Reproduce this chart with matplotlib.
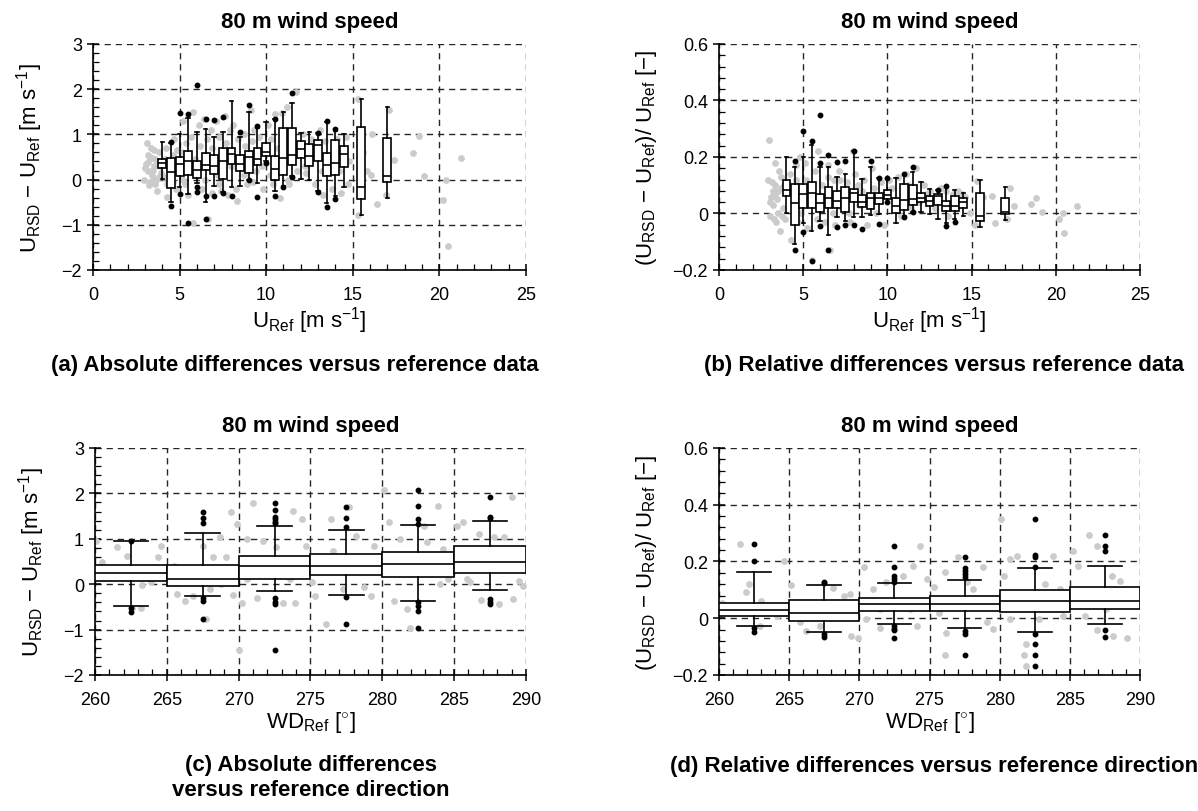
import matplotlib
matplotlib.use('Agg')
import matplotlib.pyplot as plt
from matplotlib.ticker import MultipleLocator, FuncFormatter

plt.rcParams['font.family'] = ['Liberation Sans', 'DejaVu Sans']
plt.rcParams['mathtext.fontset'] = 'custom'
plt.rcParams['mathtext.rm'] = 'Liberation Sans'
plt.rcParams['mathtext.it'] = 'Liberation Sans:italic'
plt.rcParams['mathtext.bf'] = 'Liberation Sans:bold'

# ---------------- (a) absolute difference vs U_ref ----------------
a_pos = [4.0, 4.5, 5.0, 5.5, 6.0, 6.5, 7.0, 7.5, 8.0, 8.5, 9.0, 9.5, 10.0, 10.5,
         11.0, 11.5, 12.0, 12.5, 13.0, 13.5, 14.0, 14.5, 15.5, 17.0]
a_whishi = [0.84, 0.80, 1.01, 1.37, 1.05, 1.11, 0.94, 1.05, 1.74, 0.95, 1.50, 1.15,
            1.27, 1.35, 1.50, 1.69, 1.02, 1.05, 1.04, 1.27, 1.07, 1.01, 1.78, 1.61]
a_q3 = [0.46, 0.48, 0.50, 0.63, 0.41, 0.59, 0.54, 0.70, 0.70, 0.55, 0.64, 0.70,
        0.81, 0.52, 1.15, 1.15, 0.85, 0.78, 0.87, 0.59, 0.87, 0.74, 1.17, 0.93]
a_med = [0.36, 0.16, 0.35, 0.41, 0.22, 0.33, 0.31, 0.41, 0.56, 0.35, 0.50, 0.46,
         0.61, 0.24, 0.48, 0.55, 0.67, 0.53, 0.77, 0.33, 0.37, 0.56, -0.16, 0.07]
a_q1 = [0.26, -0.19, 0.09, 0.11, 0.03, 0.22, 0.13, 0.02, 0.34, 0.20, 0.15, 0.33,
        0.52, 0.00, 0.10, 0.33, 0.47, 0.31, 0.41, 0.07, 0.10, 0.27, -0.42, -0.06]
a_whislo = [0.01, -0.49, -0.16, -0.33, -0.07, -0.50, -0.15, -0.28, -0.16, -0.15, 0.00, -0.07,
            0.40, -0.26, -0.15, 0.07, 0.01, -0.02, -0.26, -0.52, -0.37, -0.16, -0.79, -0.41]
a_fliers = [[], [0.83, -0.58], [1.47, -0.33], [1.44, -0.96], [2.09, -0.16, -0.27],
            [1.33, -0.37, -0.87], [1.31, -0.36], [1.39, -0.30], [-0.36], [1.05],
            [1.64, -0.02], [1.19, -0.39], [0.36], [1.35, -0.37], [-0.17], [1.91, 0.05],
            [], [], [1.04, -0.27], [1.30, -0.61], [1.13, -0.42], [], [], []]
a_grey_u = [3.1, 3.05, 2.95, 3.2, 3.3, 3.4, 3.5, 3.6, 3.7, 3.3, 3.8, 3.9, 3.5, 3.2, 3.6, 3.8,
            3.0, 3.15, 3.25, 3.45, 3.55, 3.75, 3.35, 3.65, 3.85, 3.4,
            4.3, 4.2, 4.4, 4.6, 4.8, 4.1, 4.7, 4.9, 4.5, 4.3, 4.15, 4.65, 4.85,
            5.2, 5.1, 5.3, 5.4, 5.6, 5.75, 5.8, 5.9, 5.5, 5.2, 5.65, 5.35,
            6.1, 6.2, 6.3, 6.4, 6.6, 6.65, 6.8, 6.9, 6.7, 6.2, 6.45, 6.85,
            7.1, 7.3, 7.4, 7.6, 7.7, 7.8, 7.9, 7.2, 7.5, 7.25, 7.95,
            8.1, 8.3, 8.4, 8.6, 8.7, 8.9, 8.2, 8.8, 8.25, 8.75,
            9.1, 9.2, 9.4, 9.6, 9.8, 9.7, 9.3, 9.25, 9.75,
            10.1, 10.3, 10.5, 10.6, 10.8, 10.9, 10.4, 10.7, 10.25,
            11.2, 11.4, 11.7, 11.8, 11.3, 11.6, 11.25,
            12.1, 12.3, 12.6, 12.8, 12.4, 12.25,
            13.1, 13.3, 13.6, 13.8, 13.4, 13.25,
            14.1, 14.3, 14.6, 14.8, 14.2, 14.75,
            15.3, 15.3, 15.6, 16.1, 16.05, 16.4, 15.8, 17.4, 17.1, 16.9, 18.5, 18.85,
            19.1, 20.2, 20.4, 20.5, 21.25]
a_grey_d = [0.81, 0.35, 0.0, 0.2, 0.5, 0.1, 0.3, 0.45, -0.26, -0.05, 0.6, 0.15, 0.65, 0.38, -0.1, 0.05,
            0.25, 0.55, -0.12, 0.22, 0.02, 0.4, 0.7, -0.02, 0.3, 0.48,
            -0.39, 0.7, 0.25, 0.55, -0.2, 0.05, 0.9, 0.35, 0.4, -0.1, 0.45, -0.05, 0.65,
            1.3, 0.6, -0.1, 0.8, 0.25, -0.96, 1.5, 0.45, -0.35, 0.0, 0.95, 0.5,
            1.2, 0.75, -0.2, 1.35, 0.9, -0.87, 1.1, -0.3, 0.4, 0.3, 0.0, 0.7,
            1.3, 0.95, -0.25, 1.4, 0.8, -0.35, 1.1, 0.1, 0.6, -0.1, 0.3,
            1.2, -0.48, 0.9, 0.5, 1.0, -0.1, 0.3, 0.75, -0.2, 0.1,
            1.55, 0.85, 0.2, 0.95, -0.2, 0.6, 1.1, -0.05, 0.3,
            1.2, 0.9, 1.45, 0.3, -0.4, 1.48, -0.1, 0.7, 0.1,
            1.6, 0.95, 1.93, 0.2, -0.1, 0.6, 0.0,
            1.0, 0.15, 0.9, -0.1, 0.55, 0.3,
            1.1, -0.35, 0.5, -0.2, 0.85, 0.2,
            0.9, -0.3, 0.95, 0.4, 0.2, -0.1,
            1.78, -0.78, 0.6, 1.0, 0.1, -0.53, 0.2, 0.43, 1.55, -0.35, 0.58, 0.96,
            0.07, -0.46, -0.02, -1.46, 0.48]

# ---------------- (b) relative difference vs U_ref ----------------
b_pos = a_pos
b_whishi = [0.200, 0.166, 0.200, 0.244, 0.166, 0.166, 0.130, 0.141, 0.221, 0.121, 0.166, 0.125,
            0.125, 0.127, 0.139, 0.147, 0.112, 0.086, 0.082, 0.098, 0.082, 0.071, 0.118, 0.094]
b_q3 = [0.119, 0.104, 0.104, 0.113, 0.068, 0.092, 0.078, 0.092, 0.088, 0.065, 0.074, 0.074,
        0.082, 0.054, 0.106, 0.101, 0.072, 0.062, 0.068, 0.045, 0.062, 0.053, 0.074, 0.056]
b_med = [0.082, 0.038, 0.068, 0.073, 0.036, 0.054, 0.044, 0.054, 0.071, 0.042, 0.054, 0.054,
         0.065, 0.025, 0.046, 0.051, 0.056, 0.044, 0.062, 0.027, 0.027, 0.039, -0.008, 0.006]
b_q1 = [0.062, -0.041, 0.018, 0.021, 0.004, 0.021, 0.021, 0.004, 0.042, 0.024, 0.015, 0.035,
        0.051, 0.002, 0.012, 0.029, 0.039, 0.027, 0.031, 0.008, 0.009, 0.021, -0.026, -0.002]
b_whislo = [0.000, -0.108, -0.032, -0.061, -0.026, -0.075, -0.014, -0.026, -0.014, -0.012, -0.005, -0.002,
            0.039, -0.032, -0.008, 0.006, 0.006, -0.002, -0.020, -0.032, -0.018, -0.008, -0.047, -0.022]
b_fliers = [[], [0.185, -0.129], [0.292, -0.067], [0.256, -0.167], [0.350, 0.178, -0.044],
            [0.208, -0.129], [0.182, -0.049], [0.186, -0.040], [0.221, -0.040], [-0.055],
            [0.185], [0.125, -0.038], [0.125, 0.039], [], [0.139, -0.012], [0.166, 0.004],
            [], [], [0.082], [0.098, -0.044], [-0.030], [], [], []]
b_grey_u = [2.97, 2.9, 3.0, 3.1, 3.2, 3.3, 3.4, 3.5, 3.6, 3.7, 3.8, 3.3, 3.5, 3.9, 3.2,
            3.05, 3.15, 3.25, 3.45, 3.55, 3.65, 3.75, 3.85, 3.35,
            4.3, 4.2, 4.6, 4.8, 4.4, 4.7, 4.9, 4.15, 4.55, 4.85,
            5.1, 5.2, 5.5, 5.3, 5.7, 5.8, 5.9, 5.15, 5.65,
            6.1, 6.3, 6.6, 6.5, 6.8, 6.9, 6.2, 6.45, 6.75,
            7.1, 7.3, 7.6, 7.96, 7.8, 7.4, 7.2, 7.7,
            8.1, 8.3, 8.6, 8.8, 8.5, 8.25,
            9.1, 9.3, 9.6, 9.8, 9.2,
            10.1, 10.4, 10.6, 10.8, 10.25,
            11.1, 11.4, 11.7, 11.9, 11.25,
            12.2, 12.5, 12.8, 12.35,
            13.2, 13.6, 13.9, 13.45,
            14.2, 14.6, 14.9, 14.4,
            15.3, 15.2, 15.7, 16.2, 16.4, 17.5, 17.3, 17.1, 18.5, 18.8, 19.15, 20.2, 20.4,
            20.5, 21.25]
b_grey_d = [0.26, 0.12, -0.01, 0.06, 0.03, 0.10, -0.03, 0.08, -0.062, 0.13, 0.02, 0.18, 0.0, -0.02, 0.08,
            0.04, 0.11, -0.02, 0.05, 0.15, 0.09, -0.01, 0.1, 0.07,
            -0.094, 0.14, 0.12, 0.20, 0.03, -0.03, 0.06, 0.1, 0.17, 0.0,
            0.18, -0.05, -0.165, 0.10, 0.15, -0.02, 0.22, 0.12, 0.06,
            0.10, -0.03, -0.13, 0.17, 0.12, -0.04, 0.05, 0.13, 0.0,
            0.15, 0.02, 0.11, 0.22, -0.03, 0.08, 0.12, 0.0,
            0.14, 0.03, 0.12, -0.04, 0.08, 0.1,
            0.16, 0.0, 0.11, -0.04, 0.09,
            0.12, 0.03, 0.13, -0.01, 0.09,
            0.14, 0.02, 0.16, 0.04, 0.1,
            0.10, 0.08, 0.02, 0.07,
            0.09, -0.01, 0.07, 0.08,
            0.08, 0.06, 0.0, 0.07,
            0.115, -0.04, 0.06, 0.062, -0.032, 0.027, 0.09, -0.02, 0.033, 0.053, 0.006, -0.02, 0.0,
            -0.07, 0.025]

# ---------------- (c) absolute difference vs WD_ref ----------------
c_pos = [262.5, 267.5, 272.5, 277.5, 282.5, 287.5]
c_whishi = [0.94, 1.12, 1.29, 1.20, 1.31, 1.39]
c_q3 = [0.43, 0.43, 0.63, 0.67, 0.71, 0.84]
c_med = [0.24, 0.125, 0.40, 0.41, 0.45, 0.49]
c_q1 = [0.06, -0.05, 0.11, 0.20, 0.15, 0.24]
c_whislo = [-0.48, -0.27, -0.155, -0.24, -0.37, -0.12]
c_fliers = [[0.96, -0.52, -0.61],
            [1.60, 1.45, 1.34, -0.30, -0.38, -0.77],
            [1.79, 1.64, 1.49, 1.44, 1.38, 1.34, -0.30, -0.39, -0.44, -1.45],
            [1.71, 1.46, 1.27, -0.28, -0.87],
            [2.08, 1.73, 1.43, 1.33, -0.39, -0.48, -0.58, -0.97],
            [1.91, 1.49, 1.45, -0.33, -0.39, -0.44]]
c_grey_wd = [260.1, 260.5, 261.5, 262.2, 263.1, 263.9, 263.3, 264.4, 264.6, 262.6, 263.2, 260.6,
             265.7, 266.3, 266.8, 267.7, 267.5, 268.2, 268.7, 269.1, 269.5, 269.6, 265.5, 268.8, 268.0,
             269.9, 270.2, 270.0, 270.6, 271.0, 271.3, 271.7, 272.6, 273.1, 273.8, 273.9, 274.4, 274.7,
             270.6, 273.6,
             275.1, 275.3, 276.1, 276.4, 276.6, 277.3, 277.7, 278.2, 278.7, 279.2, 279.4, 275.9, 278.9,
             280.1, 280.5, 280.8, 281.2, 281.9, 281.7, 282.9, 283.1, 283.9, 284.0, 284.2, 284.6, 280.5,
             285.2, 285.6, 285.9, 286.7, 286.9, 288.1, 287.8, 288.5, 289.0, 289.1, 289.5, 289.8, 286.1]
c_grey_d = [0.94, 0.48, 0.81, 0.63, 0.30, 0.04, -0.02, 0.60, 0.83, -0.52, -0.52, 0.20,
            -0.22, -0.37, -0.26, -0.77, 0.85, 0.59, 1.03, 0.59, 1.59, -0.24, 0.41, 0.0, -0.11,
            1.33, -0.41, -1.44, 1.00, 1.79, -0.30, 0.96, 0.81, -0.41, 1.62, -0.41, 1.44, 0.85,
            0.11, 0.11,
            0.04, -0.26, -0.87, 1.44, 0.74, -0.11, 1.71, 1.07, -0.07, -0.26, 0.85, 0.33, 0.48,
            2.08, 1.37, -0.37, 1.00, -0.97, -0.55, 1.29, 0.92, 1.73, 0.0, 0.77, 0.11, 0.33,
            1.29, 1.37, 0.11, 1.11, -0.35, -0.43, 1.03, 1.03, 1.92, -0.33, 0.07, -0.04, 0.04]

# ---------------- (d) relative difference vs WD_ref ----------------
d_pos = c_pos
d_whishi = [0.164, 0.118, 0.123, 0.135, 0.176, 0.184]
d_q3 = [0.052, 0.065, 0.073, 0.078, 0.098, 0.109]
d_med = [0.030, 0.017, 0.050, 0.051, 0.061, 0.061]
d_q1 = [0.008, -0.009, 0.024, 0.026, 0.022, 0.034]
d_whislo = [-0.027, -0.047, -0.021, -0.034, -0.048, -0.019]
d_fliers = [[0.262, 0.200, -0.033, -0.047],
            [0.129, 0.123, -0.057, -0.065],
            [0.256, 0.182, 0.148, 0.138, 0.129, -0.027, -0.037, -0.043, -0.071],
            [0.217, 0.178, 0.165, 0.156, 0.146, -0.045, -0.054, -0.131],
            [0.351, 0.223, 0.215, 0.182, -0.054, -0.090, -0.130, -0.169],
            [0.292, 0.256, 0.238, -0.043, -0.066]]
d_grey_wd = [261.5, 262.1, 261.9, 260.2, 263.0, 263.5, 262.9, 264.6, 264.1, 260.8,
             265.1, 265.8, 266.2, 267.2, 268.1, 268.9, 269.3, 269.4, 269.9, 268.4, 266.7,
             270.3, 270.5, 271.0, 271.5, 271.9, 273.1, 273.8, 274.3, 274.1, 274.8, 271.5, 273.6,
             275.3, 276.1, 276.2, 276.1, 277.0, 277.7, 278.1, 278.8, 279.1, 279.5, 275.7,
             280.1, 280.3, 280.7, 281.2, 281.9, 281.9, 281.7, 282.8, 283.2, 283.8, 284.3, 284.5, 280.7,
             285.2, 285.6, 286.4, 286.9, 286.9, 288.1, 288.0, 288.6, 289.1, 289.2, 286.1, 287.6]
d_grey_d = [0.262, 0.120, 0.091, 0.055, 0.061, 0.032, -0.027, 0.200, 0.008, 0.032,
            0.117, -0.015, -0.045, -0.027, 0.105, 0.079, 0.087, -0.063, -0.068, 0.008, 0.032,
            0.180, -0.004, 0.103, -0.033, 0.126, 0.150, 0.185, 0.256, -0.027, 0.138, 0.032, 0.032,
            0.109, -0.131, -0.051, 0.162, 0.215, 0.126, 0.103, 0.180, -0.015, -0.039, 0.020,
            0.351, 0.150, 0.209, 0.221, -0.092, -0.169, -0.128, -0.004, 0.120, 0.221, 0.103, 0.008, -0.004,
            0.238, 0.185, 0.292, 0.256, -0.043, -0.063, 0.150, 0.132, -0.068, 0.079, 0.008, 0.032]


def fmt(v, _):
    s = '%g' % round(v, 3)
    return s.replace('-', '\u2212')


def panel(ax, gx, gy, pos, lo, q1, med, q3, hi, fl, width, capw):
    ax.scatter(gx, gy, s=24, color='#cbcbcb', lw=0, zorder=1)
    stats = []
    for i in range(len(pos)):
        stats.append(dict(med=med[i], q1=q1[i], q3=q3[i], whislo=lo[i], whishi=hi[i], fliers=fl[i]))
    ax.bxp(stats, positions=pos, widths=width, capwidths=capw, patch_artist=True,
           manage_ticks=False, zorder=3,
           boxprops=dict(facecolor='white', edgecolor='black', lw=1.2),
           medianprops=dict(color='black', lw=1.2),
           whiskerprops=dict(color='black', lw=1.2),
           capprops=dict(color='black', lw=1.2),
           flierprops=dict(marker='o', markersize=3.2, markerfacecolor='black',
                           markeredgecolor='black', linestyle='none'))
    ax.set_axisbelow(True)
    ax.grid(True, which='major', color='0.15', lw=1.0, ls=(0, (4.5, 3.5)))
    ax.spines['top'].set_visible(False)
    ax.spines['right'].set_visible(False)
    ax.spines['left'].set_linewidth(1.2)
    ax.spines['bottom'].set_linewidth(1.2)
    ax.tick_params(which='major', direction='inout', length=9, width=1.1, labelsize=13)
    ax.tick_params(axis='x', which='major', pad=7)
    ax.tick_params(which='minor', direction='in', length=4, width=0.9)
    ax.yaxis.set_major_formatter(FuncFormatter(fmt))
    ax.set_title('80 m wind speed', fontsize=16, fontweight='bold', pad=12)


fig = plt.figure(figsize=(11.98, 8.12), dpi=100)
ax_a = fig.add_axes([0.0776, 0.6663, 0.3614, 0.2783])
ax_b = fig.add_axes([0.6002, 0.6663, 0.3514, 0.2783])
ax_c = fig.add_axes([0.0793, 0.1675, 0.3597, 0.2796])
ax_d = fig.add_axes([0.6002, 0.1675, 0.3514, 0.2796])

panel(ax_a, a_grey_u, a_grey_d, a_pos, a_whislo, a_q1, a_med, a_q3, a_whishi, a_fliers, 0.46, 0.2)
panel(ax_b, b_grey_u, b_grey_d, b_pos, b_whislo, b_q1, b_med, b_q3, b_whishi, b_fliers, 0.46, 0.2)
panel(ax_c, c_grey_wd, c_grey_d, c_pos, c_whislo, c_q1, c_med, c_q3, c_whishi, c_fliers, 5.0, 2.4)
panel(ax_d, d_grey_wd, d_grey_d, d_pos, d_whislo, d_q1, d_med, d_q3, d_whishi, d_fliers, 5.0, 2.4)

for ax in (ax_a, ax_b):
    ax.set_xlim(0, 25)
    ax.xaxis.set_major_locator(MultipleLocator(5))
    ax.xaxis.set_minor_locator(MultipleLocator(1))
    ax.set_xlabel(r'U$_{\mathrm{Ref}}$ [m s$^{\mathrm{-1}}$]', fontsize=16, labelpad=1)
for ax in (ax_c, ax_d):
    ax.set_xlim(260, 290)
    ax.xaxis.set_major_locator(MultipleLocator(5))
    ax.xaxis.set_minor_locator(MultipleLocator(1))
    ax.set_xlabel(r'WD$_{\mathrm{Ref}}$ [$^{\circ}$]', fontsize=16, labelpad=1)
for ax in (ax_a, ax_c):
    ax.set_ylim(-2, 3)
    ax.yaxis.set_major_locator(MultipleLocator(1))
    ax.yaxis.set_minor_locator(MultipleLocator(0.2))
    ax.set_ylabel(r'U$_{\mathrm{RSD}}$ $-$ U$_{\mathrm{Ref}}$ [m s$^{\mathrm{-1}}$]', fontsize=16, labelpad=12)
for ax in (ax_b, ax_d):
    ax.set_ylim(-0.2, 0.6)
    ax.yaxis.set_major_locator(MultipleLocator(0.2))
    ax.yaxis.set_minor_locator(MultipleLocator(0.04))
    ax.set_ylabel(r'(U$_{\mathrm{RSD}}$ $-$ U$_{\mathrm{Ref}}$)/ U$_{\mathrm{Ref}}$ [$-$]', fontsize=16, labelpad=10)

fig.text(295 / 1198, 1 - 366 / 812, '(a) Absolute differences versus reference data',
         ha='center', va='center', fontsize=16, fontweight='bold')
fig.text(944 / 1198, 1 - 366 / 812, '(b) Relative differences versus reference data',
         ha='center', va='center', fontsize=16, fontweight='bold')
fig.text(311 / 1198, 1 - 778 / 812, '(c) Absolute differences\nversus reference direction',
         ha='center', va='center', fontsize=16, fontweight='bold', linespacing=1.25)
fig.text(934 / 1198, 1 - 767 / 812, '(d) Relative differences versus reference direction',
         ha='center', va='center', fontsize=16, fontweight='bold')

fig.savefig('out.png', dpi=100)
